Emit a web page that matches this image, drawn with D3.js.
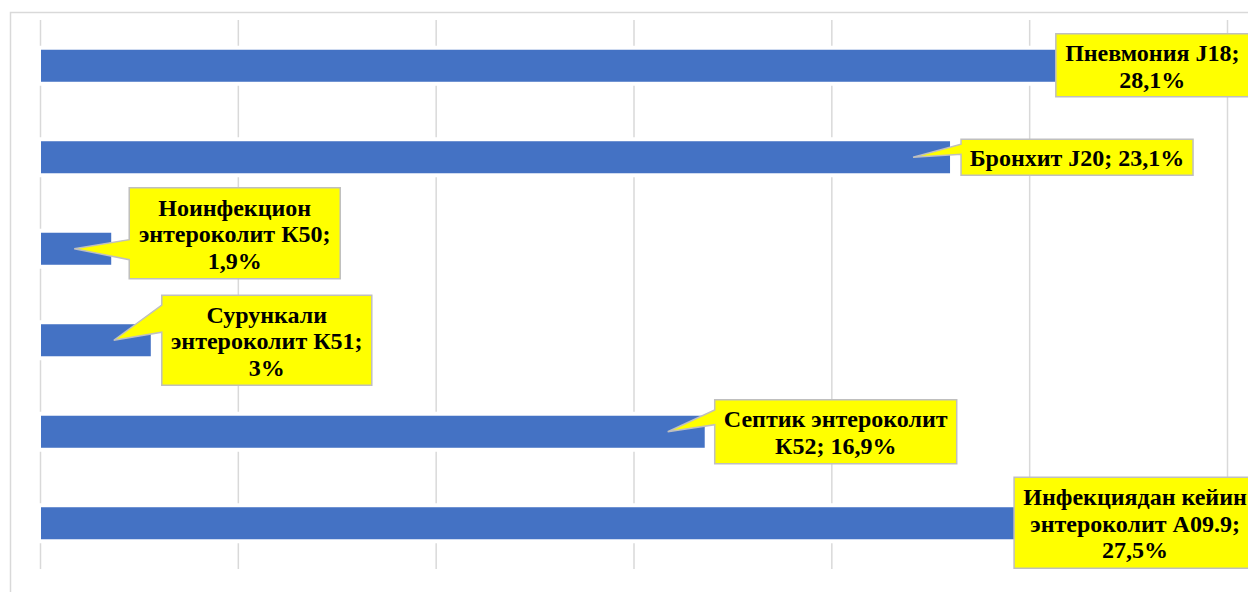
<!DOCTYPE html>
<html>
<head>
<meta charset="utf-8">
<script src="https://cdn.jsdelivr.net/npm/d3@7"></script>
<style>
  html, body { margin: 0; padding: 0; background: #fff; overflow: hidden; }
  svg { display: block; }
</style>
</head>
<body>
<div id="chart"></div>
<script>
// categories top -> bottom
const categories = [
  "Пневмония J18",
  "Бронхит J20",
  "Ноинфекцион энтероколит К50",
  "Сурункали энтероколит К51",
  "Септик энтероколит К52",
  "Инфекциядан кейин энтероколит А09.9"
];
// bar lengths (grid every 5)
const barValues = [28.1, 23.0, 1.8, 2.8, 16.8, 27.5];
const percentLabels = ["28,1%", "23,1%", "1,9%", "3%", "16,9%", "27,5%"];
const labelLines = [
  ["Пневмония J18;", "28,1%"],
  ["Бронхит J20; 23,1%"],
  ["Ноинфекцион", "энтероколит К50;", "1,9%"],
  ["Сурункали", "энтероколит К51;", "3%"],
  ["Септик энтероколит", "К52; 16,9%"],
  ["Инфекциядан кейин", "энтероколит А09.9;", "27,5%"]
];
const gridTicks = [0, 5, 10, 15, 20, 25, 30];

// callout boxes, relative to the bar end / band centre
const callouts = [
  { dx: -96, dy: -32, w: 193, h: 63, b0: 0.14, b1: 0.42 },
  { dx: 11,  dy: -18, w: 232, h: 36, b0: 0.14, b1: 0.42 },
  { dx: 18,  dy: -61, w: 211, h: 91, b0: 0.57, b1: 0.79 },
  { dx: 11,  dy: -45, w: 210, h: 90, b0: 0.11, b1: 0.41 },
  { dx: 10,  dy: -32, w: 242, h: 64, b0: 0.16, b1: 0.39 },
  { dx: -114, dy: -46, w: 242, h: 91, b0: 0.14, b1: 0.42 }
];

const width = 1248, height = 592;
const plotTop = 20, plotBottom = 569;

const svg = d3.select("#chart").append("svg")
  .attr("width", width)
  .attr("height", height);

// chart area border (runs off the page at right and bottom)
svg.append("rect")
  .attr("x", 10.5).attr("y", 12.5)
  .attr("width", 1260).attr("height", 600)
  .attr("fill", "#fff")
  .attr("stroke", "#d9d9d9")
  .attr("stroke-width", 1.5);

const x = d3.scaleLinear().domain([0, 30]).range([40, 1227]);
const y = d3.scaleBand()
  .domain(categories)
  .range([plotTop, plotBottom])
  .paddingInner(0.65)
  .paddingOuter(0.325);

// vertical gridlines
const grid = svg.append("g")
  .attr("transform", `translate(0,${plotBottom})`)
  .call(d3.axisBottom(x).tickValues(gridTicks).tickSize(-(plotBottom - plotTop)).tickFormat(""));
grid.select(".domain").remove();
grid.selectAll(".tick line")
  .attr("stroke", "#d9d9d9")
  .attr("stroke-width", 1.5);

const data = categories.map((c, i) => ({
  cat: c, value: barValues[i], pct: percentLabels[i], lines: labelLines[i], box: callouts[i]
}));

// white halo behind each bar (cuts the gridlines like the original)
svg.append("g").selectAll("rect")
  .data(data)
  .enter()
  .append("rect")
  .attr("x", x(0) - 4)
  .attr("y", d => y(d.cat) - 4)
  .attr("width", d => x(d.value) - x(0) + 8)
  .attr("height", y.bandwidth() + 8)
  .attr("fill", "#fff");

svg.append("g").selectAll("rect")
  .data(data)
  .enter()
  .append("rect")
  .attr("x", x(0) + 1)
  .attr("y", d => y(d.cat))
  .attr("width", d => x(d.value) - x(0) - 1)
  .attr("height", y.bandwidth())
  .attr("fill", "#4472c4");

// callout labels
const labels = svg.append("g").selectAll("g")
  .data(data)
  .enter()
  .append("g");

labels.append("path")
  .attr("d", d => {
    const ex = x(d.value), cy = y(d.cat) + y.bandwidth() / 2;
    const bx = ex + d.box.dx, by = cy + d.box.dy, w = d.box.w, h = d.box.h;
    const tx = ex - 37, ty = cy;
    if (tx >= bx) {
      return `M${bx},${by}H${bx + w}V${by + h}H${bx}Z`;
    }
    return `M${bx},${by}H${bx + w}V${by + h}H${bx}V${by + d.box.b1 * h}L${tx},${ty}L${bx},${by + d.box.b0 * h}Z`;
  })
  .attr("fill", "#ffff00")
  .attr("stroke", "#bfbfbf")
  .attr("stroke-width", 1.5)
  .attr("stroke-linejoin", "miter");

labels.each(function (d) {
  const g = d3.select(this);
  const ex = x(d.value), cy = y(d.cat) + y.bandwidth() / 2;
  const cx = ex + d.box.dx + d.box.w / 2;
  const bcy = cy + d.box.dy + d.box.h / 2;
  const n = d.lines.length;
  g.selectAll("text")
    .data(d.lines)
    .enter()
    .append("text")
    .attr("x", cx)
    .attr("y", (t, i) => bcy + 9 + (i - (n - 1) / 2) * 26.6)
    .attr("text-anchor", "middle")
    .attr("font-family", "'Liberation Serif', 'Times New Roman', serif")
    .attr("font-weight", "bold")
    .attr("font-size", 24)
    .attr("fill", "#000")
    .text(t => t);
});
</script>
</body>
</html>
